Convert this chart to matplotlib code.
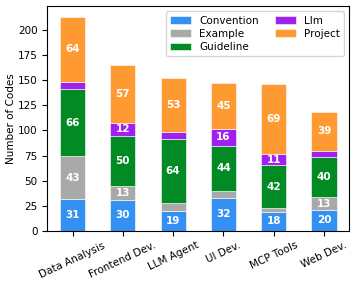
import numpy as np
import matplotlib
matplotlib.use('Agg')
import matplotlib.pyplot as plt

# categories and stacked series (labels show the integer part)
categories = ['Data Analysis', 'Frontend Dev.', 'LLM Agent', 'UI Dev.', 'MCP Tools', 'Web Dev.']
convention = [31.3, 30.4, 19.4, 32.7, 18.4, 20.3]
example = [43.4, 13.7, 8.0, 7.3, 4.3, 13.2]
guideline = [66.4, 50.5, 64.3, 44.9, 42.6, 40.2]
llm = [7.8, 12.8, 7.0, 16.7, 11.4, 5.5]
project = [64.5, 57.8, 53.3, 45.9, 69.7, 39.6]

series = [('Convention', convention, '#3590f3'),
          ('Example', example, '#a9a9a9'),
          ('Guideline', guideline, '#028a24'),
          ('Llm', llm, '#a020f0'),
          ('Project', project, '#ff9a33')]

fig, ax = plt.subplots(figsize=(3.57, 2.84), dpi=100)
x = np.arange(len(categories))
bottom = np.zeros(len(categories))

for name, vals, color in series:
    vals = np.array(vals, dtype=float)
    ax.bar(x, vals, 0.5, bottom=bottom, color=color, label=name,
           edgecolor='#ffffff', linewidth=0.4)
    # label segments that are tall enough
    for xi, b, v in zip(x, bottom, vals):
        if v >= 10:
            ax.text(xi, b + v / 2, f'{int(v)}', ha='center', va='center',
                    color='white', fontweight='bold', fontsize=7.5)
    bottom += vals

ax.set_xlim(-0.5, len(categories) - 0.5)
ax.set_ylim(0, bottom.max() * 1.05)
ax.set_xticks(x)
ax.set_xticklabels(categories, rotation=25, ha='center', fontsize=7.5)
ax.tick_params(axis='y', labelsize=7.5)
ax.set_ylabel('Number of Codes', fontsize=7.5, labelpad=1.5)
ax.legend(loc='upper right', ncol=2, fontsize=7.5, handlelength=2,
          columnspacing=1.5, handletextpad=0.8, labelspacing=0.3)

fig.subplots_adjust(left=0.133, right=0.978, top=0.978, bottom=0.188)
plt.savefig('out.png')
